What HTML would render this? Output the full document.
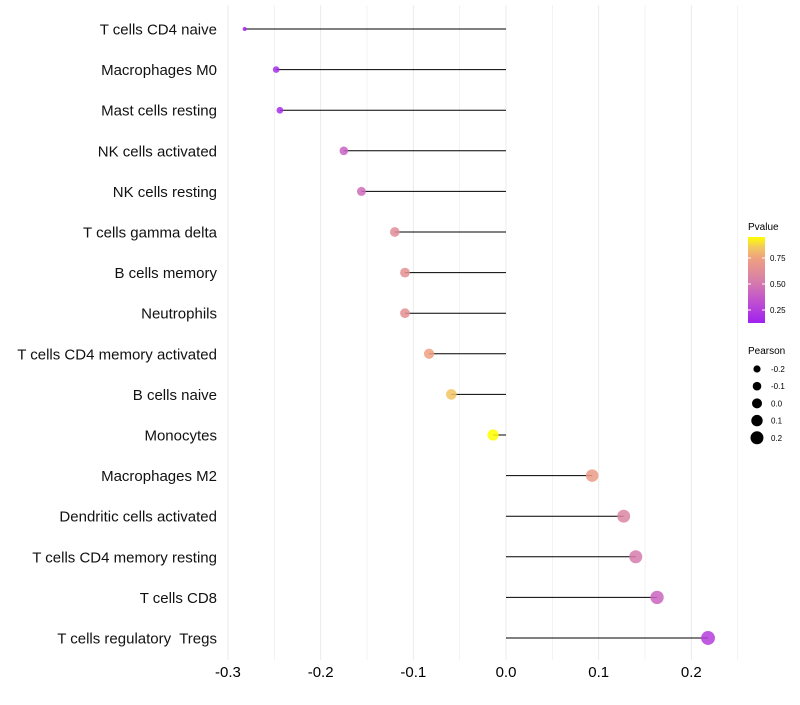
<!DOCTYPE html>
<html><head><meta charset="utf-8"><style>
body{margin:0;background:#fff;font-family:"Liberation Sans",sans-serif}
svg text{font-family:"Liberation Sans",sans-serif;white-space:pre}
</style></head><body>
<svg id="chart" width="800" height="700">
<defs><linearGradient id="pg" x1="0" y1="1" x2="0" y2="0">
<stop offset="0" stop-color="#A020F0"/><stop offset="0.25" stop-color="#C050D0"/><stop offset="0.5" stop-color="#D880A8"/><stop offset="0.75" stop-color="#EEA080"/><stop offset="0.88" stop-color="#F2C860"/><stop offset="1" stop-color="#FFFF00"/></linearGradient></defs>
</svg>
<script>
const categories=["T cells CD4 naive","Macrophages M0","Mast cells resting","NK cells activated","NK cells resting","T cells gamma delta","B cells memory","Neutrophils","T cells CD4 memory activated","B cells naive","Monocytes","Macrophages M2","Dendritic cells activated","T cells CD4 memory resting","T cells CD8","T cells regulatory  Tregs"];
const pearson=[-0.282,-0.248,-0.244,-0.175,-0.156,-0.120,-0.109,-0.109,-0.083,-0.059,-0.014,0.093,0.127,0.140,0.163,0.218];
const pvalue=[0.13,0.17,0.18,0.40,0.45,0.62,0.65,0.65,0.75,0.85,0.95,0.72,0.57,0.52,0.42,0.25];
const xTicks=[-0.3,-0.2,-0.1,0.0,0.1,0.2];
const xTickLabels=["-0.3","-0.2","-0.1","0.0","0.1","0.2"];
const pTicks=[0.25,0.5,0.75];
const pTickLabels=["0.25","0.50","0.75"];
const sizeVals=[-0.2,-0.1,0,0.1,0.2];
const sizeLabels=["-0.2","-0.1","0.0","0.1","0.2"];

const svg=document.getElementById('chart');
const NS='http://www.w3.org/2000/svg';
function mk(t,a,p){const e=document.createElementNS(NS,t);for(const k in a)e.setAttribute(k,a[k]);(p||svg).appendChild(e);return e;}
const x=v=>506+v*926.7;
const y=i=>29+i*40.6;
const rad=v=>2.0+7*Math.sqrt(Math.max(0,v+0.282));
const stops=[[0.125,[160,32,240]],[0.33,[192,80,208]],[0.54,[216,128,168]],[0.75,[238,160,128]],[0.86,[242,200,96]],[0.95,[255,255,0]]];
function col(p){if(p<=stops[0][0])return 'rgb('+stops[0][1]+')';for(let i=1;i<stops.length;i++){if(p<=stops[i][0]){const t=(p-stops[i-1][0])/(stops[i][0]-stops[i-1][0]);const c=stops[i-1][1].map((a,j)=>Math.round(a+(stops[i][1][j]-a)*t));return 'rgb('+c+')';}}return 'rgb('+stops[stops.length-1][1]+')';}

for(let v=-0.3;v<=0.251;v+=0.05){const g=mk('line',{x1:x(v),x2:x(v),y1:5,y2:660,stroke:'#ebebeb','stroke-width':Math.abs(Math.round(v*20)%2)===1?0.6:1});

}
xTicks.forEach((v,i)=>{const t=mk('text',{x:x(v),y:677,'text-anchor':'middle','font-size':15,fill:'#000'});t.textContent=xTickLabels[i];

});

categories.forEach((c,i)=>{
const lab=mk('text',{x:217,y:y(i)+5.5,'text-anchor':'end','font-size':15,fill:'#111'});lab.textContent=c;


const ln=mk('line',{x1:x(0),x2:x(pearson[i]),y1:y(i),y2:y(i),stroke:'#000','stroke-width':1});


const pt=mk('circle',{cx:x(pearson[i]),cy:y(i),r:rad(pearson[i]),fill:col(pvalue[i]),'fill-opacity':0.85});


});

const lt=mk('text',{x:748,y:230,'font-size':10});lt.textContent='Pvalue';


const bar=mk('rect',{x:748,y:237,width:17,height:86,fill:'url(#pg)'});


const py=p=>310-(p-0.25)*104;
pTicks.forEach((p,i)=>{mk('line',{x1:748,x2:751,y1:py(p),y2:py(p),stroke:'#fff'});mk('line',{x1:762,x2:765,y1:py(p),y2:py(p),stroke:'#fff'});
const t=mk('text',{x:770,y:py(p)+3,'font-size':8});t.textContent=pTickLabels[i];

});
const st=mk('text',{x:748,y:354,'font-size':10});st.textContent='Pearson';


const legR=[3.6,4.3,5.0,5.7,6.5];
sizeVals.forEach((v,i)=>{const cy=369+i*17.2;
const c=mk('circle',{cx:757,cy:cy,r:legR[i],fill:'#000'});


const t=mk('text',{x:771,y:cy+3,'font-size':8});t.textContent=sizeLabels[i];

});
</script>
</body></html>
